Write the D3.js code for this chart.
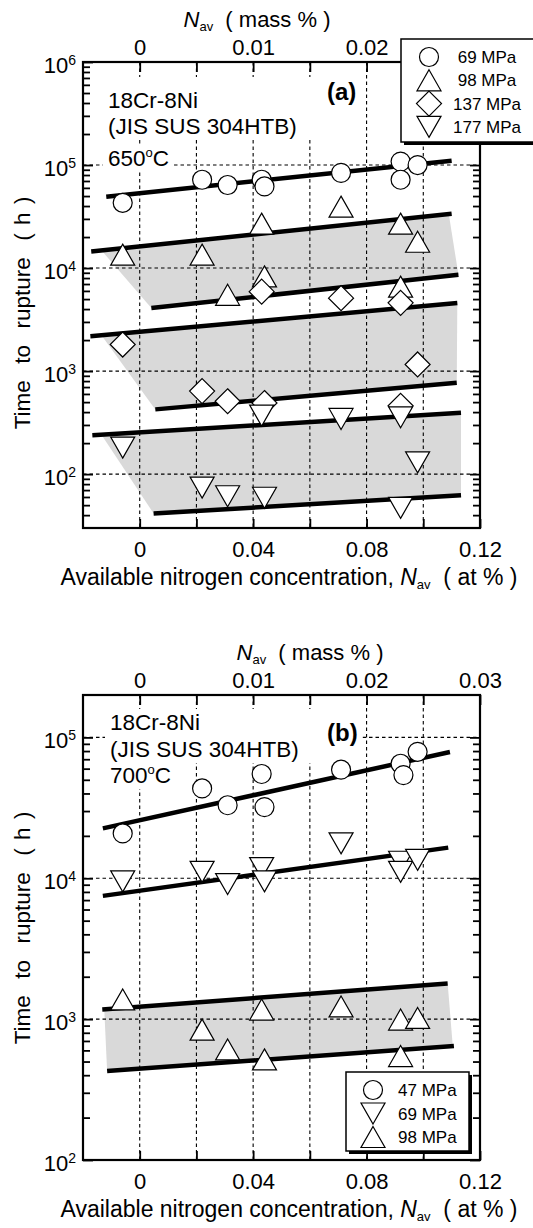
<!DOCTYPE html>
<html>
<head>
<meta charset="utf-8">
<script src="https://cdn.jsdelivr.net/npm/d3@7"></script>
<style>
  body { margin: 0; background: #fff; }
  svg { display: block; font-family: "Liberation Sans", Arial, Helvetica, sans-serif; }
  .pre { white-space: pre; }
</style>
</head>
<body>
<svg id="chart" width="533" height="1228"></svg>
<script>
// ---- shared axes ----------------------------------------------------------
const atDomain = [-0.02, 0.12];          // available nitrogen, at %
const massDomain = [-0.005, 0.03];       // available nitrogen, mass %
const atTicks = [0, 0.02, 0.04, 0.06, 0.08, 0.10, 0.12];
const atLabels = [0, 0.04, 0.08, 0.12];
const massTicks = [0, 0.005, 0.01, 0.015, 0.02, 0.025, 0.03];
const aMassLabels = [0, 0.01, 0.02];     // 0.03 sits under the legend in (a)
const bMassLabels = [0, 0.01, 0.02, 0.03];
const gridAt = [0, 0.02, 0.04, 0.06, 0.08, 0.10];

// ---- (a) 650 C ------------------------------------------------------------
const aYDomain = [30, 1e6];
const aDecades = [1e2, 1e3, 1e4, 1e5, 1e6];
const aGridY = [1e2, 1e3, 1e4, 1e5];
const aStress = ["69 MPa", "98 MPa", "137 MPa", "177 MPa"];
const aShapes = ["circle", "up", "diamond", "down"];

const a69X  = [-0.006, 0.022, 0.031, 0.043, 0.044, 0.071, 0.092, 0.092, 0.098];
const a69Y  = [43000, 72000, 64000, 72000, 62000, 84000, 108000, 72000, 100000];
const a98X  = [-0.006, 0.022, 0.031, 0.043, 0.044, 0.071, 0.092, 0.092, 0.098];
const a98Y  = [13500, 13500, 5500, 27000, 8300, 39500, 27000, 6600, 18000];
const a137X = [-0.006, 0.022, 0.031, 0.043, 0.044, 0.071, 0.092, 0.092, 0.098];
const a137Y = [1810, 640, 510, 5900, 490, 5100, 4600, 460, 1160];
const a177X = [-0.006, 0.022, 0.031, 0.043, 0.044, 0.071, 0.092, 0.092, 0.098];
const a177Y = [181, 74, 61, 370, 59, 343, 356, 47, 130];

// fitted lines: [x0, t0, x1, t1]
const aFit69    = [-0.0118, 49300, 0.110, 110000];
const aFit98Hi  = [-0.0171, 14500, 0.110, 33600];
const aFit98Lo  = [0.0041, 4100, 0.1124, 8600];
const aFit137Hi = [-0.0174, 2180, 0.112, 4580];
const aFit137Lo = [0.0055, 425, 0.1118, 771];
const aFit177Hi = [-0.0167, 238, 0.1133, 394];
const aFit177Lo = [0.0049, 41.5, 0.1133, 62.4];
// scatter bands: [upper start, upper end, lower start, lower end] (at %)
const aBand98  = [-0.0135, 0.109, 0.0041, 0.1124];
const aBand137 = [-0.0135, 0.112, 0.0055, 0.1118];
const aBand177 = [-0.0135, 0.1133, 0.0049, 0.1133];

// ---- (b) 700 C ------------------------------------------------------------
const bYDomain = [100, 2e5];
const bDecades = [1e2, 1e3, 1e4, 1e5];
const bGridY = [1e3, 1e4, 1e5];
const bStress = ["47 MPa", "69 MPa", "98 MPa"];
const bShapes = ["circle", "down", "up"];

const b47X = [-0.006, 0.022, 0.031, 0.043, 0.044, 0.071, 0.092, 0.093, 0.098];
const b47Y = [20800, 43400, 33000, 55000, 32000, 59000, 65000, 54000, 79000];
const b69X = [-0.006, 0.022, 0.031, 0.043, 0.044, 0.071, 0.092, 0.092, 0.098];
const b69Y = [9500, 11100, 9100, 11800, 9500, 17700, 13100, 11100, 13500];
const b98X = [-0.006, 0.022, 0.031, 0.043, 0.044, 0.071, 0.092, 0.092, 0.098];
const b98Y = [1380, 843, 609, 1170, 518, 1230, 993, 547, 1020];

const bFit47   = [-0.0130, 22600, 0.1094, 78800];
const bFit69   = [-0.0130, 7500, 0.1088, 16500];
const bFit98Hi = [-0.0132, 1170, 0.1086, 1790];
const bFit98Lo = [-0.0115, 428, 0.1108, 644];
const bBand98  = [-0.0125, 0.1086, -0.0115, 0.1104];

// ---- drawing --------------------------------------------------------------
const svg = d3.select("#chart");
const GRAY = "#d9d9d9";

const SHAPES = {
  circle:  () => { const r = 9.5; return `M${r},0A${r},${r} 0 1,1 ${-r},0A${r},${r} 0 1,1 ${r},0Z`; },
  up:      () => "M0,-10.5L12,10.5L-12,10.5Z",
  down:    () => "M0,10.5L12,-10.5L-12,-10.5Z",
  diamond: () => "M0,-12.5L12.5,0L0,12.5L-12.5,0Z"
};

function fmtX(d) { return d === 0 ? "0" : d.toFixed(2); }

function fitAt(L, xv) {
  const l0 = Math.log10(L[1]), l1 = Math.log10(L[3]);
  return Math.pow(10, l0 + (xv - L[0]) / (L[2] - L[0]) * (l1 - l0));
}

function withBackground(g, textSel, pad) {
  const boxes = textSel.nodes().map(n => n.getBBox());
  const x0 = d3.min(boxes, b => b.x) - pad, x1 = d3.max(boxes, b => b.x + b.width) + pad;
  const y0 = d3.min(boxes, b => b.y) - 1, y1 = d3.max(boxes, b => b.y + b.height) + 1;
  g.insert("rect", () => textSel.node())
    .attr("x", x0).attr("y", y0).attr("width", x1 - x0).attr("height", y1 - y0)
    .attr("fill", "#fff");
}

function drawPanel(p) {
  const g = svg.append("g");
  const x = d3.scaleLinear().domain(atDomain).range([p.left, p.right]);
  const xm = d3.scaleLinear().domain(massDomain).range([p.left, p.right]);
  const y = d3.scaleLog().domain(p.yDomain).range([p.bottom, p.top]);

  // scatter bands
  p.bands.forEach(b => {
    const pts = [
      [b.x[0], fitAt(b.hi, b.x[0])], [b.x[1], fitAt(b.hi, b.x[1])],
      [b.x[3], fitAt(b.lo, b.x[3])], [b.x[2], fitAt(b.lo, b.x[2])]
    ];
    g.append("path")
      .attr("d", d3.line().x(d => x(d[0])).y(d => y(d[1]))(pts) + "Z")
      .attr("fill", GRAY);
  });

  // dashed grid
  const grid = g.append("g").attr("stroke", "#000").attr("stroke-width", 1.1)
    .attr("stroke-dasharray", "3.5,3");
  grid.selectAll("line.v").data(gridAt).join("line")
    .attr("x1", d => x(d)).attr("x2", d => x(d))
    .attr("y1", p.top).attr("y2", p.bottom);
  grid.selectAll("line.h").data(p.gridY).join("line")
    .attr("x1", p.left).attr("x2", p.right)
    .attr("y1", d => y(d)).attr("y2", d => y(d));

  // material / temperature note with white backing
  const note = g.append("g").attr("font-size", 22.5).attr("fill", "#000");
  note.append("text").attr("x", p.noteX).attr("y", p.noteY[0]).text("18Cr-8Ni");
  note.append("text").attr("x", p.noteX).attr("y", p.noteY[1]).text("(JIS SUS 304HTB)");
  note.append("text").attr("x", p.tagX).attr("y", p.tagY)
    .attr("font-weight", "bold").attr("font-size", 24).text(p.tag);
  const t3 = note.append("text").attr("x", p.noteX).attr("y", p.noteY[2]);
  t3.append("tspan").text(p.temp);
  t3.append("tspan").attr("font-size", 13).attr("dy", -9).text("o");
  t3.append("tspan").attr("dy", 9).text("C");
  withBackground(note, note.selectAll("text").filter((d, i) => i < 3), 5);
  withBackground(note, t3, 5);
  note.selectAll("rect").lower();

  // fitted lines
  g.selectAll("line.fit").data(p.fits).join("line")
    .attr("x1", d => x(d[0])).attr("y1", d => y(d[1]))
    .attr("x2", d => x(d[2])).attr("y2", d => y(d[3]))
    .attr("stroke", "#000").attr("stroke-width", 4.5);

  // data points
  p.series.forEach(s => {
    g.append("g").selectAll("path").data(s.x.map((v, i) => [v, s.y[i]])).join("path")
      .attr("transform", d => `translate(${x(d[0])},${y(d[1])})`)
      .attr("d", SHAPES[s.shape]())
      .attr("fill", "#fff").attr("stroke", "#000").attr("stroke-width", 1.2);
  });

  // frame
  g.append("rect").attr("x", p.left).attr("y", p.top)
    .attr("width", p.right - p.left).attr("height", p.bottom - p.top)
    .attr("fill", "none").attr("stroke", "#000").attr("stroke-width", 2.2);

  // axes
  const minors = [];
  d3.range(Math.floor(Math.log10(p.yDomain[0])), Math.ceil(Math.log10(p.yDomain[1]))).forEach(k => {
    for (let m = 2; m <= 9; m++) {
      const v = m * Math.pow(10, k);
      if (v > p.yDomain[0] && v < p.yDomain[1]) minors.push(v);
    }
  });
  const styleAxis = sel => {
    sel.select(".domain").remove();
    sel.selectAll(".tick line").attr("stroke-width", 1.8);
    sel.attr("font-family", null).attr("font-size", 22);
  };
  g.append("g").attr("transform", `translate(${p.left},0)`)
    .call(d3.axisLeft(y).tickValues(minors).tickSize(-7).tickFormat("")).call(styleAxis);
  g.append("g").attr("transform", `translate(${p.left},0)`)
    .call(d3.axisLeft(y).tickValues(p.decades).tickSize(-10).tickFormat("")).call(styleAxis);
  g.append("g").attr("transform", `translate(${p.right},0)`)
    .call(d3.axisRight(y).tickValues(minors).tickSize(-7).tickFormat("")).call(styleAxis);
  g.append("g").attr("transform", `translate(${p.right},0)`)
    .call(d3.axisRight(y).tickValues(p.decades).tickSize(-10).tickFormat("")).call(styleAxis);

  g.append("g").attr("transform", `translate(0,${p.bottom})`)
    .call(d3.axisBottom(x).tickValues(atTicks).tickSize(-9).tickPadding(13)
      .tickFormat(d => atLabels.some(v => Math.abs(v - d) < 1e-9) ? fmtX(d) : ""))
    .call(styleAxis);
  g.append("g").attr("transform", `translate(0,${p.top})`)
    .call(d3.axisTop(xm).tickValues(massTicks).tickSize(-10).tickPadding(7)
      .tickFormat(d => p.massLabels.some(v => Math.abs(v - d) < 1e-9) ? fmtX(d) : ""))
    .call(styleAxis);

  // decade labels 10^n
  const yl = g.append("g").attr("font-size", 22).attr("text-anchor", "end");
  p.decades.forEach(v => {
    const t = yl.append("text").attr("x", p.left - 7).attr("y", y(v) + 11);
    t.append("tspan").text("10");
    t.append("tspan").attr("font-size", 14).attr("dy", -8).text(Math.round(Math.log10(v)));
  });

  // axis titles
  g.append("text").attr("class", "pre").attr("font-size", 22.5)
    .attr("text-anchor", "middle").attr("word-spacing", 2)
    .attr("transform", `translate(30,${p.yTitleY}) rotate(-90)`)
    .text("Time  to  rupture  ( h )");

  const xb = g.append("text").attr("class", "pre").attr("font-size", 23)
    .attr("text-anchor", "middle").attr("x", 289).attr("y", p.bottom + 57);
  xb.append("tspan").text("Available nitrogen concentration, ");
  xb.append("tspan").attr("font-style", "italic").text("N");
  xb.append("tspan").attr("font-size", 13).attr("dy", 4).text("av");
  xb.append("tspan").attr("dy", -4).text("  ( at % )");

  const xt = g.append("text").attr("class", "pre").attr("font-size", 22)
    .attr("text-anchor", "middle").attr("x", p.topTitleX).attr("y", p.top - 35);
  xt.append("tspan").attr("font-style", "italic").text("N");
  xt.append("tspan").attr("font-size", 13).attr("dy", 4).text("av");
  xt.append("tspan").attr("dy", -4).text("  ( mass % )");

  // legend
  const L = p.legend;
  const lg = g.append("g");
  lg.append("rect").attr("x", L.x + 3).attr("y", L.y + 3).attr("width", L.w).attr("height", L.h).attr("fill", "#000");
  lg.append("rect").attr("x", L.x).attr("y", L.y).attr("width", L.w).attr("height", L.h)
    .attr("fill", "#fff").attr("stroke", "#000").attr("stroke-width", 1.5);
  p.series.forEach((s, i) => {
    const cy = L.y + L.row0 + i * L.dy;
    lg.append("path").attr("transform", `translate(${L.mx},${cy})`).attr("d", SHAPES[s.shape]())
      .attr("fill", "#fff").attr("stroke", "#000").attr("stroke-width", 1.2);
    lg.append("text").attr("x", L.tx).attr("y", cy + 6).attr("font-size", L.fs)
      .attr("text-anchor", L.anchor).text(s.label);
  });
}

drawPanel({
  left: 83, right: 480, top: 62, bottom: 528,
  yDomain: aYDomain, decades: aDecades, gridY: aGridY, massLabels: aMassLabels,
  bands: [
    { x: aBand98, hi: aFit98Hi, lo: aFit98Lo },
    { x: aBand137, hi: aFit137Hi, lo: aFit137Lo },
    { x: aBand177, hi: aFit177Hi, lo: aFit177Lo }
  ],
  fits: [aFit69, aFit98Hi, aFit98Lo, aFit137Hi, aFit137Lo, aFit177Hi, aFit177Lo],
  series: [
    { x: a69X, y: a69Y, shape: aShapes[0], label: aStress[0] },
    { x: a98X, y: a98Y, shape: aShapes[1], label: aStress[1] },
    { x: a137X, y: a137Y, shape: aShapes[2], label: aStress[2] },
    { x: a177X, y: a177Y, shape: aShapes[3], label: aStress[3] }
  ],
  noteX: 108, noteY: [108, 134, 166], temp: "650", tag: "(a)", tagX: 327, tagY: 100,
  yTitleY: 313, topTitleX: 257,
  legend: { x: 401, y: 39, w: 140, h: 103, row0: 18, dy: 23.3, mx: 429, tx: 487, fs: 17, anchor: "middle" }
});

drawPanel({
  left: 83, right: 480, top: 695, bottom: 1160,
  yDomain: bYDomain, decades: bDecades, gridY: bGridY, massLabels: bMassLabels,
  bands: [ { x: bBand98, hi: bFit98Hi, lo: bFit98Lo } ],
  fits: [bFit47, bFit69, bFit98Hi, bFit98Lo],
  series: [
    { x: b47X, y: b47Y, shape: bShapes[0], label: bStress[0] },
    { x: b69X, y: b69Y, shape: bShapes[1], label: bStress[1] },
    { x: b98X, y: b98Y, shape: bShapes[2], label: bStress[2] }
  ],
  noteX: 110, noteY: [730, 757, 783], temp: "700", tag: "(b)", tagX: 327, tagY: 741,
  yTitleY: 928, topTitleX: 310,
  legend: { x: 346, y: 1072, w: 123, h: 79, row0: 18, dy: 23.5, mx: 373, tx: 398, fs: 17, anchor: "start" }
});
</script>
</body>
</html>
